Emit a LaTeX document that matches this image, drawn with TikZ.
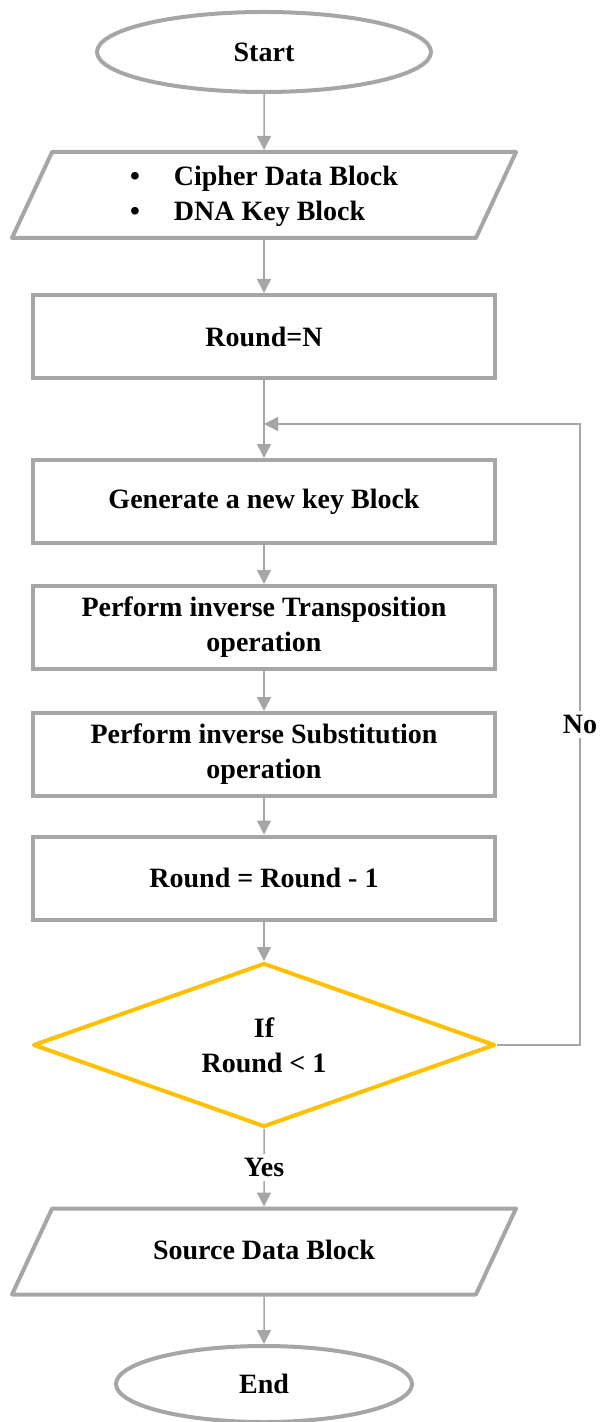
\documentclass[tikz,border=0pt]{standalone}
\usepackage{fontspec}
\setmainfont{Liberation Serif}
\usetikzlibrary{shapes.geometric,arrows.meta}
\definecolor{boxgray}{HTML}{A6A6A6}
\definecolor{condyellow}{HTML}{FFC000}
\tikzset{
	flowtext/.style={font=\fontsize{14}{17.5}\selectfont\bfseries, align=center, text=black},
	flowbox/.style={flowtext, draw=boxgray, line width=2pt, rectangle, minimum width=231pt, minimum height=41.5pt},
	ioshape/.style={flowtext, draw=boxgray, line width=2pt, line join=round, trapezium, trapezium left angle=65, trapezium right angle=115, trapezium stretches body, minimum width=252pt, inner ysep=0pt, text height=25.5pt, text depth=17.5pt},
	termshape/.style={flowtext, draw=boxgray, line width=2pt, ellipse, inner sep=0pt},
	condshape/.style={flowtext, draw=condyellow, line width=2pt, line join=round, diamond, aspect=2.8, minimum width=231pt, minimum height=82pt, inner sep=0pt},
	flowline/.style={draw=boxgray, line width=0.75pt, -{Triangle[width=7pt,length=7pt]}},
	flowlabel/.style={flowtext, fill=white, inner sep=2pt}
}

\begin{document}
\begin{tikzpicture}[x=0.5pt, y=-0.5pt]
			%%%%% START %%%%%
			\useasboundingbox (0, 0) rectangle (601, 1422);
			
			\node[termshape, minimum width=167pt, minimum height=40pt] (start) at (264, 52) {Start};
			
			\node[ioshape] (input) at (264, 195) {\begin{tabular}{@{}l@{\hspace{17pt}}l@{}}\textbullet & Cipher Data Block\\ \textbullet & DNA Key Block\end{tabular}};
			
			\node[flowbox] (rounds) at (264, 336.5) {Round=N};
			\node[flowbox] (newkey) at (264, 501.5) {Generate a new key Block};
			\node[flowbox] (transp) at (264, 627.5) {Perform inverse Transposition\\operation};
			\node[flowbox] (subst) at (264, 754.5) {Perform inverse Substitution\\operation};
			\node[flowbox] (decr) at (264, 878) {Round = Round - 1};
			
			\node[condshape] (check) at (264, 1045) {If\\Round < 1};
			
			\node[ioshape] (output) at (264, 1251.5) {Source Data Block};
			
			\node[termshape, minimum width=148pt, minimum height=38pt] (stop) at (264, 1384) {End};
			
			\coordinate (turn) at (580, 424);
			\coordinate (join) at (264, 424);
			
			\draw[flowline] (start) -- (input);
			\draw[flowline] (input) -- (rounds);
			\draw[flowline] (rounds) -- (newkey);
			\draw[flowline] (newkey) -- (transp);
			\draw[flowline] (transp) -- (subst);
			\draw[flowline] (subst) -- (decr);
			\draw[flowline] (decr) -- (check);
			\draw[flowline] (check) -- node[flowlabel] {Yes} (output);
			\draw[flowline] (output) -- (stop);
			
			\draw[flowline] (check.east) -| node[flowlabel, pos=0.758] {No} (turn) -- (join);
			%%%%% END %%%%%
		\end{tikzpicture}
\end{document}
